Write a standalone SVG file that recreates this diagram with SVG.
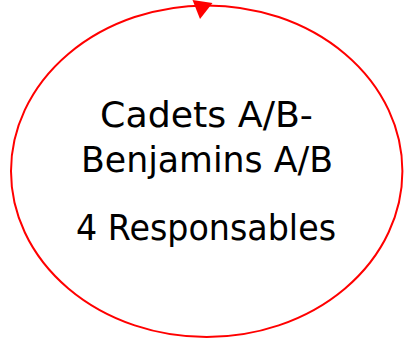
<svg xmlns="http://www.w3.org/2000/svg" width="405" height="343" viewBox="0 0 405 343">
<style>
.bg{fill:#ffffff}
.loop{fill:none;stroke:#ff0000;stroke-width:2}
.head{fill:#ff0000;stroke:none}
.lbl{font-family:"DejaVu Sans","Liberation Sans",sans-serif;font-size:35px;fill:#000000;text-anchor:middle}
</style>
<rect class="bg" x="0" y="0" width="405" height="343"/>
<g id="node-cadets">
<ellipse class="loop" cx="206.7" cy="171.2" rx="195.7" ry="165.8"/>
<text class="lbl" x="206.5" y="127" textLength="213" lengthAdjust="spacingAndGlyphs">Cadets A/B-</text>
<text class="lbl" x="207" y="172" textLength="252" lengthAdjust="spacingAndGlyphs">Benjamins A/B</text>
<text class="lbl" x="206" y="239.5" textLength="260" lengthAdjust="spacingAndGlyphs">4 Responsables</text>
</g>
<g id="connectors">
<polygon class="head" points="192.5,0 212.5,3 200,19"/>
</g>
</svg>
